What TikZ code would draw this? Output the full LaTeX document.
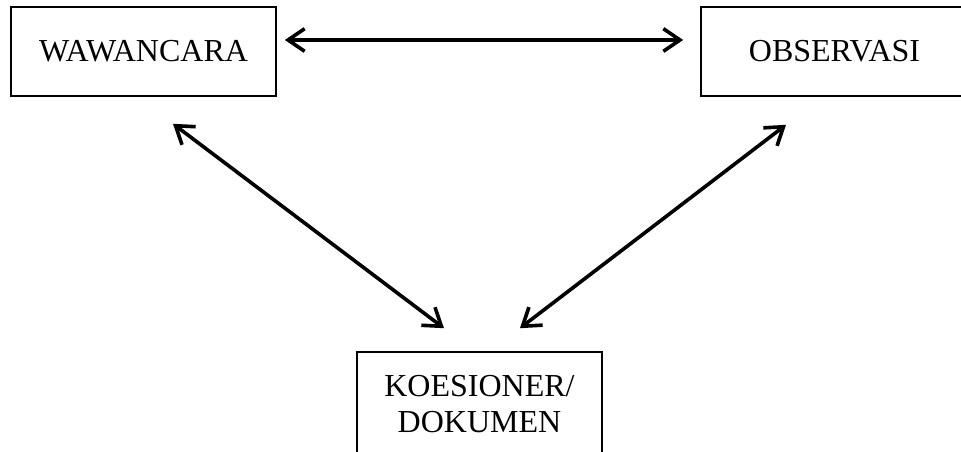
\documentclass[tikz,border=0pt]{standalone}
\usepackage{fontspec}
\setmainfont{Liberation Serif}
\usetikzlibrary{arrows.meta}
\begin{document}
\begin{tikzpicture}[x=0.75pt,y=-0.75pt,
  box/.style={draw,line width=1.2pt,inner sep=0pt,align=center,
    font=\fontsize{24pt}{27pt}\selectfont},
  arr/.style={line width=2.7pt,{Straight Barb[length=12.5pt,width=17pt,line width=2.7pt]}-{Straight Barb[length=12.5pt,width=17pt,line width=2.7pt]}}]
\useasboundingbox (0,0) rectangle (961,452);
\clip (0,0) rectangle (961,452);
\node[box,minimum width=265*0.75pt,minimum height=89*0.75pt] (wa) at (143.5,51.5) {WAWANCARA};
\node[box,minimum width=267*0.75pt,minimum height=89*0.75pt] (ob) at (834.5,51.5) {OBSERVASI};
\node[box,minimum width=245*0.75pt,minimum height=104*0.75pt] (ko) at (479.5,404) {KOESIONER/\\DOKUMEN};
\draw[arr] ([shift={(8,-11.5)}]wa.east) -- ([shift={(-17,-11.5)}]ob.west);
\draw[arr] ([shift={(29.5,27)}]wa.south) -- ([shift={(-35.5,-23)}]ko.north);
\draw[arr] ([shift={(-48.5,28)}]ob.south) -- ([shift={(40.5,-23)}]ko.north);
\end{tikzpicture}
\end{document}
